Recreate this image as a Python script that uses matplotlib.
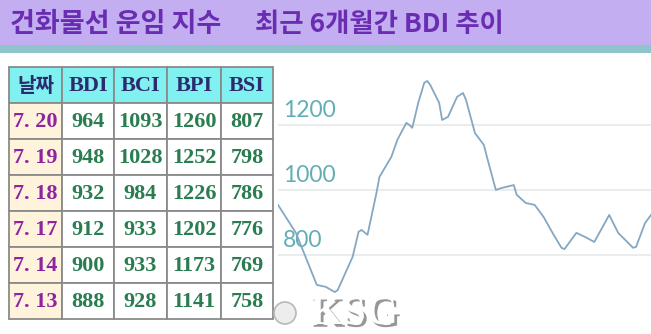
import matplotlib
matplotlib.use('Agg')
import matplotlib.pyplot as plt
from matplotlib.patches import Rectangle, Circle
import matplotlib.patheffects as pe

plt.rcParams['font.family'] = ['Noto Sans CJK KR', 'DejaVu Sans']

## 표 데이터
columns = ['날짜', 'BDI', 'BCI', 'BPI', 'BSI']
dates = ['7. 20', '7. 19', '7. 18', '7. 17', '7. 14', '7. 13']
bdi = [964, 948, 932, 912, 900, 888]
bci = [1093, 1028, 984, 933, 933, 928]
bpi = [1260, 1252, 1226, 1202, 1173, 1141]
bsi = [807, 798, 786, 776, 769, 758]

## 최근 6개월 BDI (그림에서 읽은 값, 거래일 기준)
trend_day = [0, 6, 13, 16, 19, 20, 25, 27, 28, 30, 33, 34, 38, 40, 43, 44, 45, 47, 49, 50,
             51, 54, 55, 57, 60, 62, 63, 66, 69, 70, 73, 75, 79, 80, 83, 86, 89, 92, 95, 96,
             100, 103, 106, 111, 114, 119, 120, 123, 125]
trend_bdi = [954, 868, 708, 702, 686, 692, 794, 871, 877, 862, 991, 1040, 1102, 1154, 1206, 1200,
             1191, 1268, 1329, 1335, 1323, 1268, 1215, 1225, 1286, 1298, 1277, 1175, 1138, 1102,
             1000, 1006, 1015, 985, 960, 954, 917, 868, 822, 818, 868, 855, 840, 923, 868, 822,
             825, 898, 923]
grid_levels = [800, 1000, 1200]

W, H = 651, 334
fig = plt.figure(figsize=(W / 100, H / 100), dpi=100)

## 배경 / 제목 띠
bg = fig.add_axes([0, 0, 1, 1])
bg.set_xlim(0, W)
bg.set_ylim(H, 0)
bg.axis('off')
bg.add_patch(Rectangle((0, 0), W, 45, color='#C4AEF2', lw=0))
bg.add_patch(Rectangle((0, 45), W, 8, color='#8EC4CC', lw=0))
bg.text(10, 24, '건화물선 운임 지수', fontsize=19.5, fontweight='bold', color='#6A2DB2',
        ha='left', va='center')
bg.text(255, 24, '최근 6개월간 BDI 추이', fontsize=19, fontweight='bold', color='#6A2DB2',
        ha='left', va='center')

## 표
col_x = [9, 62, 114, 167, 221, 273]
row_y = [67 + 36 * i for i in range(8)]
values = [bdi, bci, bpi, bsi]
serif = ['Liberation Serif', 'DejaVu Serif']

for r in range(7):
    for c in range(5):
        x0, x1 = col_x[c], col_x[c + 1]
        y0, y1 = row_y[r], row_y[r + 1]
        if r == 0:
            fc = '#80F0F0'
        elif c == 0:
            fc = '#FFF3DC'
        else:
            fc = 'white'
        bg.add_patch(Rectangle((x0, y0), x1 - x0, y1 - y0, facecolor=fc,
                               edgecolor='#8A8A8A', lw=1.3))
        cx, cy = (x0 + x1) / 2, (y0 + y1) / 2
        if r == 0:
            if c == 0:
                bg.text(cx, cy, columns[c], fontsize=14.5, fontweight='bold', color='#2B2B6E',
                        ha='center', va='center')
            else:
                bg.text(cx, cy + 1, columns[c], fontsize=16, fontweight='bold', color='#2B2B6E',
                        family=serif, ha='center', va='center')
        elif c == 0:
            bg.text(cx, cy + 1, dates[r - 1], fontsize=16, fontweight='bold', color='#8E24A0',
                    family=serif, ha='center', va='center')
        else:
            bg.text(cx, cy + 1, str(values[c - 1][r - 1]), fontsize=16, fontweight='bold',
                    color='#2A7D50', family=serif, ha='center', va='center')

## 추이 그래프
ax = fig.add_axes([278 / W, 0, 373 / W, (H - 53) / H])
ax.patch.set_visible(False)
ax.set_xlim(0, 125)
ax.set_ylim(557, 1421)
for lv in grid_levels:
    ax.axhline(lv, color='#E6EAEA', lw=1.2, zorder=1)
    ax.text(0.014, lv + 25, str(lv), transform=ax.get_yaxis_transform(), fontsize=16.5,
            family=['Lato', 'DejaVu Sans'], color='#62AEB4',
            ha='left', va='baseline', zorder=2)
ax.plot(trend_day, trend_bdi, color='#84A8C4', lw=1.3, zorder=3)
ax.axis('off')

## 워터마크
bg.add_patch(Circle((285, 313), 11, facecolor='#EDEDED', edgecolor='#B8B8B8', lw=1.2, zorder=5))
bg.text(354, 314, 'KSG', fontsize=30, fontweight='bold', family=serif, color='white',
        ha='center', va='center', zorder=6,
        path_effects=[pe.withSimplePatchShadow(offset=(2, -2), shadow_rgbFace='#8C8C8C', alpha=0.9)])

fig.savefig('out.png', dpi=100)
